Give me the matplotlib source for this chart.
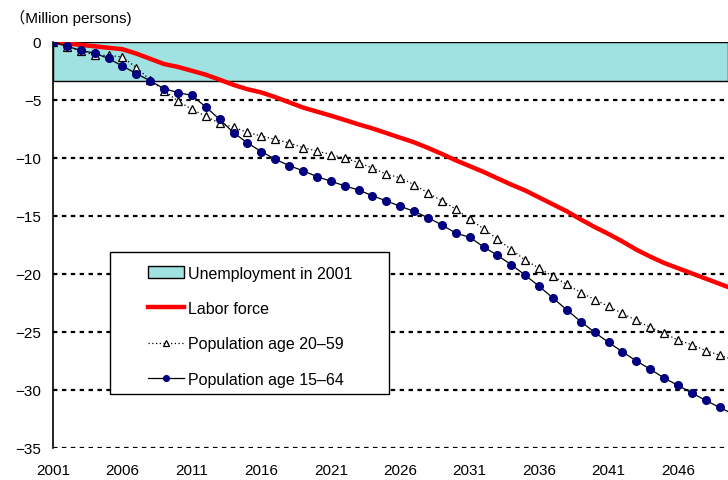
import matplotlib
matplotlib.use("Agg")
import matplotlib.pyplot as plt
from matplotlib.patches import Rectangle
import numpy as np

plt.rcParams['font.family'] = ['Liberation Sans', 'DejaVu Sans']

# ~~~~~ data (million persons, change from 2001) ~~~~~
years = np.arange(2001, 2051)

unemployment_2001 = -3.4

labor_force = [0, -0.12, -0.25, -0.37, -0.5, -0.62, -1.0, -1.45, -1.9, -2.15,
               -2.48, -2.82, -3.25, -3.7, -4.07, -4.35, -4.75, -5.2, -5.65, -6.0,
               -6.35, -6.72, -7.1, -7.45, -7.85, -8.25, -8.65, -9.13, -9.65, -10.2,
               -10.7, -11.2, -11.75, -12.3, -12.8, -13.4, -14.0, -14.6, -15.3, -15.95,
               -16.55, -17.2, -17.9, -18.5, -19.05, -19.5, -19.95, -20.4, -20.85, -21.3]

pop_20_59 = [0, -0.4, -0.75, -1.15, -1.15, -1.3, -2.2, -3.28, -4.2, -5.1,
             -5.8, -6.4, -7.0, -7.35, -7.8, -8.1, -8.4, -8.7, -9.1, -9.4,
             -9.7, -10.0, -10.4, -10.86, -11.4, -11.7, -12.3, -13.0, -13.7, -14.4,
             -15.26, -16.1, -17.0, -17.9, -18.8, -19.5, -20.2, -20.9, -21.6, -22.2,
             -22.8, -23.4, -24.0, -24.6, -25.1, -25.7, -26.1, -26.6, -27.0, -27.4]

pop_15_64 = [0, -0.37, -0.72, -0.97, -1.42, -2.08, -2.72, -3.35, -4.02, -4.36,
             -4.61, -5.6, -6.67, -7.82, -8.7, -9.45, -10.1, -10.66, -11.1, -11.6,
             -12.0, -12.4, -12.76, -13.25, -13.7, -14.16, -14.6, -15.15, -15.77, -16.47,
             -16.84, -17.65, -18.4, -19.2, -20.1, -21.06, -22.07, -23.1, -24.1, -25.03,
             -25.9, -26.7, -27.5, -28.2, -28.97, -29.6, -30.26, -30.9, -31.5, -32.1]

year_ticks = [2001, 2006, 2011, 2016, 2021, 2026, 2031, 2036, 2041, 2046]
value_ticks = [0, -5, -10, -15, -20, -25, -30, -35]

W, H = 728, 481
fig = plt.figure(figsize=(W/100, H/100), dpi=100)
ax = fig.add_axes([53/W, 1 - 449/H, 1 - 53/W, (449 - 43)/H])

ax.axhspan(unemployment_2001, 0, facecolor='#a0e1e1', edgecolor='black',
           linewidth=1.0, zorder=1, label='Unemployment in 2001')

for v in value_ticks[1:]:
    ax.axhline(v, color='black', linestyle=(0, (2, 2)), linewidth=1.6, zorder=2)

ax.plot(years, labor_force, color='#ff0000', linewidth=3.2, zorder=4,
        label='Labor force')
ax.plot(years, pop_20_59, color='black', linestyle=(0, (1, 2)), linewidth=0.9,
        marker='^', markersize=5.5, markerfacecolor='white', markeredgecolor='black',
        markeredgewidth=0.9, zorder=3, label='Population age 20\u201259')
ax.plot(years, pop_15_64, color='black', linewidth=0.9, marker='o', markersize=5.5,
        markerfacecolor='#000080', markeredgecolor='#000080', zorder=5,
        label='Population age 15\u201264')

ax.set_xlim(2001, 2049.6)
ax.set_ylim(-35, 0)
ax.set_xticks(year_ticks)
ax.set_yticks(value_ticks)
ax.tick_params(length=0, labelsize=11)
ax.tick_params(axis='x', pad=11)
ax.tick_params(axis='y', pad=8.5)
for s in ['top', 'right', 'bottom']:
    ax.spines[s].set_visible(False)
ax.spines['left'].set_linewidth(1.2)

fig.text(10/W, 1 - 18/H, '\uff08Million persons)', fontsize=11, va='center', ha='left',
         family=['Liberation Sans', 'Noto Sans CJK JP'])

# legend box drawn on its own so the padding can be wider than the rows need
ax.add_patch(Rectangle((110/W, 1 - 395/H), (389 - 110)/W, (395 - 253)/H,
                       transform=fig.transFigure, facecolor='white',
                       edgecolor='black', linewidth=1.0, zorder=6, clip_on=False))
leg = ax.legend(loc='upper left', bbox_to_anchor=(134/W, 1 - 253/H),
                bbox_transform=fig.transFigure, fontsize=11.5, frameon=False,
                handlelength=2.25, handletextpad=0.3, labelspacing=1.28,
                borderpad=0.85, borderaxespad=0, numpoints=1, markerscale=0.75)
leg.set_zorder(7)

fig.savefig('out.png', dpi=100)
